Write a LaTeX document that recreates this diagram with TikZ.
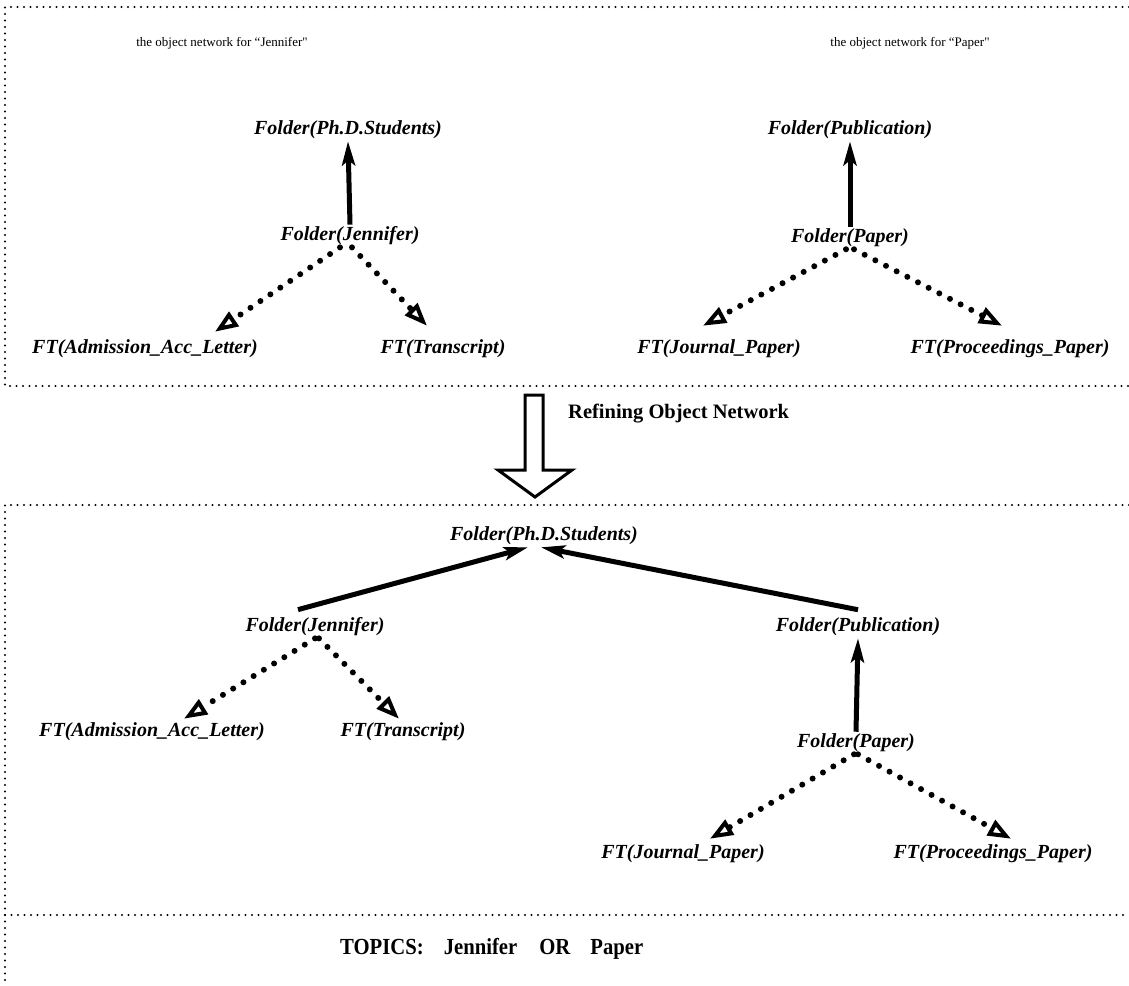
\documentclass[tikz,border=0pt]{standalone}
\usepackage{fontspec}
\setmainfont{Liberation Serif}
\newfontfamily\topicsfont{Liberation Serif}[FakeStretch=0.9]
\usetikzlibrary{arrows.meta}

\begin{document}
\begin{tikzpicture}[x=1pt,y=-1pt,
  obj/.style={font=\fontsize{20}{24}\selectfont\bfseries\itshape, inner sep=2pt},
  hdr/.style={font=\fontsize{13}{16}\selectfont, inner sep=0pt},
  frame/.style={line width=2.2pt, dash pattern=on 0pt off 6.5pt, line cap=round},
  isa/.style={line width=5pt, -{Stealth[length=24pt,width=13pt,inset=5pt]}},
  part/.style={line width=6pt, dash pattern=on 0pt off 12pt, line cap=round,
    -{Triangle[open,length=23pt,width=17pt,line width=4pt]}},
  hollow/.style={line width=3pt, line join=miter}
]
\useasboundingbox (0,0) rectangle (1129,985);

% frames
\draw[frame] (1129,7) -- (5,7) -- (5,386) -- (1129,386);
\draw[frame] (1129,505) -- (5,505) -- (5,985);
\draw[frame] (5,915) -- (1129,915);

% upper panel: the two separate object networks
\node[hdr] (hdrJ) at (222,43) {the object network for ``Jennifer\textquotedbl};
\node[hdr] (hdrP) at (910,43) {the object network for ``Paper\textquotedbl};

\node[obj] (phd1) at (348,130) {Folder(Ph.D.Students)};
\node[obj] (jen1) at (350,236) {Folder(Jennifer)};
\node[obj] (adm1) at (145,349) {FT(Admission\_Acc\_Letter)};
\node[obj] (tr1)  at (443,349) {FT(Transcript)};

\node[obj] (pub1) at (850,130) {Folder(Publication)};
\node[obj] (pap1) at (850,238) {Folder(Paper)};
\node[obj] (jp1)  at (719,349) {FT(Journal\_Paper)};
\node[obj] (pp1)  at (1010,349) {FT(Proceedings\_Paper)};

\draw[isa] (jen1.north) -- (phd1.south);
\draw[part] ([xshift=-10pt]jen1.south) -- ([xshift=70pt,yshift=6pt]adm1.north);
\draw[part] ([xshift=2pt]jen1.south) -- ([xshift=-16pt,yshift=12pt]tr1.north);

\draw[isa] (pap1.north) -- (pub1.south);
\draw[part] ([xshift=-4pt]pap1.south) -- ([xshift=-16pt,yshift=12pt]jp1.north);
\draw[part] ([xshift=4pt]pap1.south) -- ([xshift=-8pt,yshift=12pt]pp1.north);

% refinement step
\draw[hollow] (525,395) -- (543,395) -- (543,470) -- (572,470) -- (535,497)
  -- (498,470) -- (525,470) -- cycle;
\node[font=\fontsize{20.5}{24}\selectfont\bfseries, anchor=west, inner sep=0pt]
  (refine) at (568,414) {Refining Object Network};

% lower panel: the merged object network
\node[obj] (phd2) at (544,536) {Folder(Ph.D.Students)};
\node[obj] (jen2) at (315,627) {Folder(Jennifer)};
\node[obj] (pub2) at (858,627) {Folder(Publication)};
\node[obj] (adm2) at (152,732) {FT(Admission\_Acc\_Letter)};
\node[obj] (tr2)  at (403,732) {FT(Transcript)};
\node[obj] (pap2) at (856,743) {Folder(Paper)};
\node[obj] (jp2)  at (683,854) {FT(Journal\_Paper)};
\node[obj] (pp2)  at (993,854) {FT(Proceedings\_Paper)};

\draw[isa] ([xshift=-17pt,yshift=6pt]jen2.north) -- ([xshift=-16pt]phd2.south);
\draw[isa] ([yshift=6pt]pub2.north) -- ([xshift=-3pt]phd2.south);
\draw[isa] (pap2.north) -- (pub2.south);
\draw[part] (jen2.south) -- ([xshift=32pt,yshift=2pt]adm2.north);
\draw[part] ([xshift=4pt]jen2.south) -- ([xshift=-4pt,yshift=2pt]tr2.north);
\draw[part] ([xshift=-2pt]pap2.south) -- ([xshift=27pt,yshift=4pt]jp2.north);
\draw[part] ([xshift=2pt]pap2.south) -- ([xshift=18pt,yshift=4pt]pp2.north);

% query line
\node[font=\fontsize{23}{27}\selectfont\topicsfont\bfseries, anchor=west, inner sep=0pt]
  (topics) at (340,949) {TOPICS:\hspace{20pt}Jennifer\hspace{22pt}OR\hspace{20pt}Paper};
\end{tikzpicture}
\end{document}
